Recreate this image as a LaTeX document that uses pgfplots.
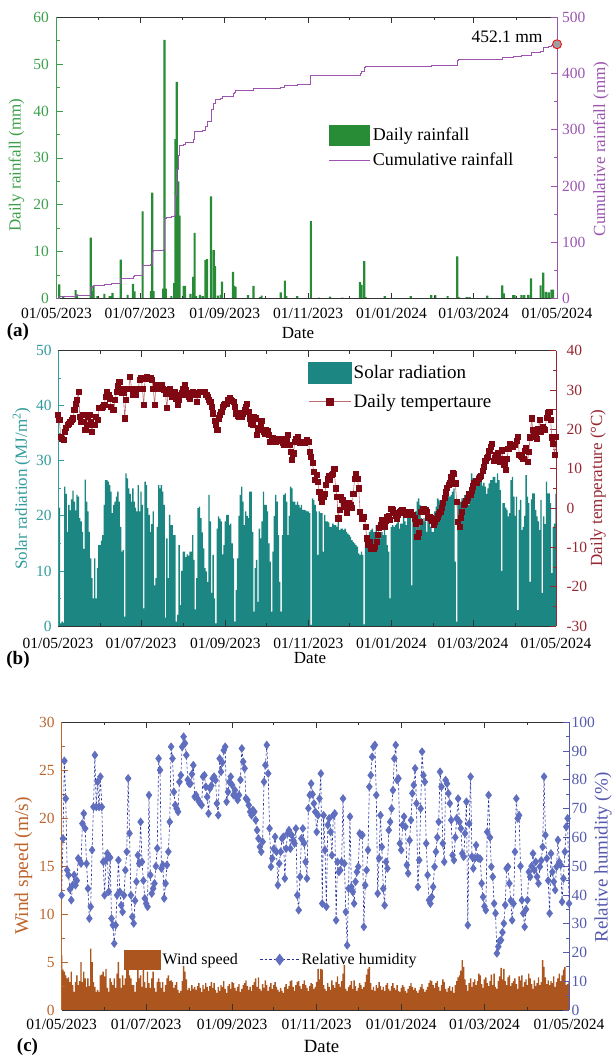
\documentclass[border=0pt]{standalone}
\usepackage{fontspec}
\setmainfont{Liberation Serif}
\usepackage{pgfplots}
\usepackage{pgfplotstable}
\pgfplotsset{compat=1.18}

\definecolor{rainGreen}{RGB}{40,140,55}
\definecolor{rainAxis}{RGB}{60,160,75}
\definecolor{cumPurple}{RGB}{155,85,175}
\definecolor{solarTeal}{RGB}{28,135,130}
\definecolor{solarAxis}{RGB}{50,155,155}
\definecolor{tempRed}{RGB}{128,8,18}
\definecolor{tempAxis}{RGB}{150,40,50}
\definecolor{tempLine}{RGB}{190,110,115}
\definecolor{windBrown}{RGB}{172,85,30}
\definecolor{windAxis}{RGB}{190,100,45}
\definecolor{rhBlue}{RGB}{95,110,190}
\definecolor{rhLine}{RGB}{40,50,160}
\definecolor{rhAxis}{RGB}{85,90,172}

% daily series: day index (0 = 01/05/2023), solar radiation, temperature, wind speed, relative humidity
\pgfplotstableread{
d S T W H
0 24.4 23.7 5.7 39.9
1 21.5 22.4 4.2 59.6
2 0.5 18.1 4.0 86.6
3 0.8 17.5 3.6 73.5
4 0.6 17.3 3.3 48.6
5 25.3 19.4 3.4 46.9
6 24.0 20.3 2.9 42.0
7 17.1 21.1 4.0 38.2
8 22.0 21.5 2.6 43.4
9 21.0 21.9 1.9 46.9
10 23.0 22.4 2.9 43.4
11 24.6 22.8 3.6 45.0
12 22.6 24.9 2.6 52.7
13 21.0 26.5 3.0 52.0
14 23.8 27.5 5.0 50.9
15 23.5 29.6 2.9 64.8
16 19.6 23.2 4.0 68.3
17 19.0 21.9 3.3 63.1
18 17.1 23.7 2.4 50.9
19 14.0 22.0 3.3 42.2
20 26.6 19.8 2.5 31.8
21 22.6 21.1 6.4 35.9
22 20.8 23.2 5.0 55.6
23 17.1 23.7 2.9 70.6
24 12.3 21.9 2.4 88.6
25 8.7 19.4 1.9 70.6
26 5.0 21.1 2.1 79.3
27 12.3 21.1 1.9 70.6
28 5.0 23.2 3.6 81.1
29 10.5 22.4 3.7 70.6
30 14.7 25.4 4.0 51.5
31 14.7 25.4 3.5 39.9
32 15.5 25.4 4.3 52.1
33 16.5 25.8 2.3 54.4
34 22.0 26.2 1.9 41.1
35 26.5 28.3 3.3 53.0
36 26.5 29.6 2.9 31.8
37 26.2 28.7 2.6 29.5
38 25.6 27.9 3.3 23.1
39 24.4 25.8 2.3 29.5
40 20.5 24.9 3.8 39.9
41 22.0 24.9 5.0 52.1
42 22.6 27.5 3.3 41.1
43 23.5 29.6 2.3 36.4
44 24.4 31.0 3.6 34.1
45 22.6 32.1 2.6 39.9
46 18.0 30.4 3.3 48.6
47 13.5 29.2 4.3 55.0
48 13.8 29.2 5.0 80.5
49 1.7 22.8 3.6 61.4
50 27.7 27.5 3.3 39.9
51 26.8 30.4 2.6 32.4
52 25.0 30.4 2.6 30.1
53 24.0 33.4 1.9 38.0
54 22.6 30.4 2.9 44.6
55 25.0 28.7 4.3 53.8
56 22.6 30.4 3.3 50.9
57 21.5 28.7 3.6 65.4
58 20.8 30.4 2.4 51.5
59 25.6 30.4 4.3 45.0
60 20.8 32.6 2.9 38.8
61 24.4 33.0 2.3 37.0
62 22.0 30.4 4.0 35.9
63 3.2 26.2 2.8 74.7
64 26.2 33.0 2.3 46.9
65 25.6 33.4 3.3 40.5
66 21.4 33.0 4.0 42.2
67 20.2 33.0 2.3 44.0
68 17.1 33.0 1.9 50.0
69 18.5 32.6 2.9 56.2
70 20.8 30.4 3.3 87.4
71 7.4 26.2 2.9 83.4
72 8.7 31.3 2.3 49.2
73 18.0 30.9 2.9 50.4
74 25.6 30.4 1.9 38.8
75 25.0 30.4 2.6 44.0
76 25.6 31.3 3.3 50.4
77 24.4 30.4 3.6 55.0
78 22.0 30.0 3.0 65.4
79 1.5 29.0 3.1 91.5
80 15.9 25.4 2.9 87.4
81 8.7 29.6 2.3 75.8
82 20.2 30.4 2.6 71.2
83 18.3 29.2 2.9 70.0
84 18.3 28.3 2.1 68.9
85 16.5 28.7 1.8 79.3
86 16.5 29.6 2.0 81.6
87 0.8 27.9 3.0 91.5
88 2.0 26.2 4.6 95.0
89 14.7 27.5 4.0 92.7
90 3.8 28.7 3.2 88.6
91 10.0 29.2 2.1 80.0
92 13.5 30.4 2.3 78.7
93 13.5 31.3 2.0 78.7
94 12.5 30.0 2.6 82.0
95 13.0 28.7 2.2 85.1
96 12.8 28.3 2.4 74.1
97 13.5 27.9 2.1 74.7
98 13.5 29.2 2.5 73.5
99 16.5 29.6 2.8 72.5
100 12.0 29.2 2.3 71.8
101 3.0 28.7 1.9 71.2
102 8.7 27.0 2.6 81.1
103 21.4 28.7 2.2 81.6
104 21.7 29.6 2.8 77.6
105 19.6 29.6 2.4 74.1
106 17.0 29.6 2.0 68.3
107 14.1 29.6 2.5 77.0
108 10.5 29.6 2.9 78.0
109 9.9 28.7 2.3 80.5
110 8.0 28.3 2.8 81.1
111 23.8 27.5 2.1 79.9
112 19.0 27.0 1.8 71.8
113 6.0 25.8 2.4 67.7
114 12.9 24.1 2.0 87.4
115 5.0 22.1 2.6 82.8
116 0.5 21.1 2.4 86.0
117 17.7 19.8 3.0 90.3
118 19.9 22.8 2.2 91.5
119 19.5 23.7 1.8 72.4
120 19.0 24.5 2.5 75.8
121 13.0 25.8 2.7 79.3
122 14.7 26.2 2.2 81.1
123 19.0 26.4 2.9 78.2
124 20.2 26.6 2.8 74.7
125 20.2 27.5 2.3 76.4
126 18.3 27.9 2.0 74.1
127 18.6 27.5 2.4 73.0
128 15.0 27.2 2.7 74.7
129 12.3 27.0 1.9 80.0
130 0.8 25.8 2.2 90.9
131 6.5 24.1 2.6 86.3
132 12.3 23.5 2.8 84.0
133 20.0 23.2 3.1 73.5
134 23.8 23.7 2.5 73.0
135 25.3 23.2 2.1 71.2
136 22.6 24.1 2.4 68.9
137 18.3 24.9 2.0 67.7
138 20.8 25.8 2.6 69.5
139 20.0 26.6 2.9 68.9
140 19.6 24.5 3.3 66.0
141 24.4 22.8 2.4 62.5
142 24.4 21.5 3.4 59.6
143 17.1 21.1 2.2 56.7
144 2.6 23.2 2.0 55.0
145 10.5 22.8 2.7 58.5
146 12.0 18.6 2.3 79.3
147 4.4 19.8 3.1 85.1
148 17.7 20.3 2.6 92.1
149 15.9 21.1 2.0 82.2
150 19.0 22.1 2.4 63.1
151 24.4 19.4 2.8 49.8
152 22.0 19.0 2.2 52.7
153 22.0 19.8 2.6 56.0
154 20.8 19.6 2.9 60.2
155 15.0 18.6 2.4 55.0
156 11.7 16.9 2.1 43.4
157 2.6 17.7 1.9 50.9
158 13.5 17.9 2.3 55.0
159 20.0 17.3 2.0 59.6
160 23.8 16.9 1.8 60.2
161 22.6 17.7 2.4 45.7
162 16.5 17.3 2.7 56.1
163 8.0 17.1 2.2 61.4
164 2.6 17.7 2.5 62.5
165 16.5 16.5 3.0 56.1
166 23.8 16.2 3.1 60.8
167 24.1 16.0 2.4 59.0
168 22.6 17.7 2.0 57.9
169 16.5 18.6 2.6 63.1
170 20.0 16.0 2.9 39.9
171 25.3 14.3 3.0 34.7
172 25.0 12.2 2.5 46.3
173 22.6 13.9 2.2 59.6
174 22.6 16.9 2.7 63.1
175 22.0 17.7 3.1 58.0
176 22.6 18.1 2.6 51.5
177 22.0 16.9 2.3 45.7
178 21.5 16.5 2.0 70.1
179 22.0 16.9 2.5 74.7
180 21.1 16.5 2.8 78.7
181 21.1 16.7 2.7 75.0
182 21.0 16.9 2.2 71.8
183 20.8 17.3 2.4 68.9
184 20.8 16.9 2.9 61.9
185 20.5 14.3 4.3 67.7
186 0.2 13.1 3.2 73.5
187 23.2 11.4 4.3 82.2
188 22.9 9.2 4.2 37.0
189 22.0 7.1 2.6 67.7
190 20.8 8.4 2.2 55.6
191 12.9 6.7 2.0 35.9
192 20.8 4.1 2.8 64.3
193 20.5 2.5 2.4 66.6
194 20.5 1.6 2.1 61.9
195 13.5 2.9 3.1 53.8
196 20.2 3.7 2.6 67.7
197 19.0 5.9 2.3 68.3
198 19.0 7.5 2.9 31.2
199 18.8 8.2 3.5 51.5
200 18.0 7.1 2.7 48.0
201 18.0 8.4 2.4 48.6
202 18.6 8.7 3.0 51.5
203 18.3 10.0 3.8 73.5
204 18.3 5.0 4.7 50.9
205 18.0 2.9 2.2 34.1
206 19.6 -2.6 2.0 22.5
207 17.4 -0.5 2.4 42.2
208 17.7 2.9 2.6 67.2
209 17.7 2.0 3.0 42.8
210 17.4 0.8 2.2 41.1
211 17.7 0.4 3.1 37.0
212 17.1 -1.3 2.5 44.6
213 16.8 0.4 2.0 48.0
214 16.5 1.2 2.3 49.8
215 16.2 0.8 2.8 61.4
216 15.6 0.0 2.6 60.8
217 15.3 3.7 2.2 60.8
218 15.0 7.5 2.4 28.9
219 14.7 8.8 2.9 43.4
220 14.4 7.5 3.7 48.6
221 13.2 5.0 4.3 55.6
222 12.9 -0.9 4.5 77.6
223 13.5 -2.6 2.8 81.6
224 12.9 -2.6 2.1 88.0
225 0.3 -2.2 2.4 91.5
226 15.9 -4.7 2.0 92.1
227 15.9 -7.7 2.6 74.7
228 16.5 -9.2 2.3 40.5
229 17.1 -8.5 2.9 52.7
230 17.4 -10.4 2.5 67.7
231 17.7 -9.8 2.1 56.7
232 17.1 -10.4 2.4 42.2
233 17.1 -9.8 2.0 36.4
234 18.3 -8.5 2.6 51.5
235 16.5 -6.9 2.8 49.2
236 16.5 -5.0 2.2 62.5
237 15.9 -4.3 2.0 65.4
238 17.1 -3.0 2.5 70.0
239 16.5 -4.1 2.8 76.4
240 18.3 -4.7 2.3 87.4
241 16.5 -3.3 2.1 92.1
242 14.7 -2.2 2.6 79.9
243 13.5 -1.9 2.0 80.5
244 5.0 -3.0 1.9 57.9
245 18.0 -0.1 2.3 55.6
246 18.3 -0.5 2.6 64.3
247 18.0 -1.3 2.4 67.2
248 18.3 -1.9 2.0 63.7
249 18.6 -2.6 1.8 50.4
250 19.6 -1.8 2.2 47.5
251 17.7 -1.1 2.5 59.0
252 18.6 -0.8 2.8 66.0
253 18.6 -0.5 2.4 75.3
254 20.2 -0.9 2.1 78.2
255 19.0 -0.9 2.3 84.0
256 18.3 -1.6 2.0 71.8
257 19.6 -1.3 1.8 42.8
258 19.6 -1.1 2.1 52.1
259 19.6 -0.9 2.4 70.0
260 7.4 -1.8 2.7 89.8
261 19.0 -1.8 2.2 81.6
262 19.6 -2.6 1.9 79.3
263 20.8 -4.1 2.1 57.9
264 22.6 -7.3 2.4 46.9
265 23.2 -6.4 2.8 38.2
266 22.0 -3.5 3.1 37.0
267 19.6 -0.9 3.0 39.3
268 19.0 -0.2 2.6 42.8
269 19.6 -0.2 2.3 49.8
270 19.0 -0.5 2.8 55.0
271 17.1 -0.9 3.0 60.0
272 20.8 -2.4 2.4 65.4
273 19.0 -2.2 2.0 82.8
274 18.0 -2.6 2.6 77.6
275 17.1 -3.3 3.2 57.9
276 17.1 -4.3 2.9 51.5
277 20.8 -3.6 2.2 79.9
278 21.7 -2.8 1.9 78.7
279 23.2 -2.1 2.3 75.3
280 22.9 -1.4 2.5 71.8
281 22.6 -0.9 2.0 66.0
282 21.4 0.0 2.4 53.8
283 23.8 1.3 1.8 52.1
284 22.6 2.6 2.6 60.0
285 23.8 4.0 3.0 66.6
286 24.4 5.2 3.4 73.5
287 23.8 5.9 3.6 65.4
288 23.5 6.5 4.1 63.1
289 23.8 8.0 5.2 54.4
290 24.4 9.0 4.5 53.3
291 25.0 8.8 3.2 61.4
292 11.7 6.3 2.6 72.4
293 0.8 1.6 2.0 29.5
294 22.0 -3.5 2.8 64.8
295 22.0 -4.7 3.3 81.1
296 22.6 -2.4 2.4 53.3
297 23.2 -0.9 2.9 49.2
298 23.2 0.8 3.2 52.7
299 23.8 1.1 2.6 57.3
300 22.6 1.8 3.0 53.0
301 22.3 2.6 3.8 52.7
302 22.0 3.5 3.6 52.5
303 24.4 3.5 2.7 44.0
304 27.7 4.5 2.3 39.3
305 26.8 5.5 3.2 36.0
306 26.2 6.5 3.4 34.7
307 25.6 7.0 2.8 61.9
308 27.4 6.5 2.5 74.7
309 25.6 7.5 3.0 60.0
310 27.7 8.0 3.7 49.8
311 26.5 8.2 2.6 46.3
312 25.5 9.5 3.8 37.0
313 26.0 10.5 2.4 33.6
314 25.3 12.0 2.2 19.7
315 24.0 12.8 3.0 22.0
316 25.0 13.1 3.5 24.0
317 25.9 14.5 4.4 24.3
318 26.5 15.5 3.2 27.0
319 26.5 16.4 4.3 30.1
320 27.1 12.0 3.0 36.5
321 27.1 12.8 2.6 49.2
322 26.0 13.5 3.4 49.8
323 27.7 13.9 3.6 44.0
324 26.5 12.5 2.5 38.0
325 24.7 11.8 2.8 31.2
326 10.0 14.7 3.0 37.0
327 22.3 12.5 3.3 55.0
328 22.3 11.0 2.7 73.5
329 21.5 9.7 2.2 66.6
330 21.1 12.5 3.5 67.7
331 19.9 15.0 3.1 50.0
332 20.5 16.4 3.6 38.2
333 26.5 15.8 2.4 33.6
334 27.1 15.6 2.9 28.9
335 23.5 16.0 3.2 35.0
336 20.0 16.0 2.6 38.2
337 23.5 17.0 3.8 48.0
338 2.9 18.1 3.3 46.3
339 21.1 13.5 2.7 50.0
340 22.9 13.3 2.2 54.4
341 17.4 13.1 3.1 48.6
342 18.0 12.6 2.5 51.5
343 20.0 14.5 2.8 46.3
344 27.4 15.2 3.4 44.0
345 23.5 11.8 2.6 49.8
346 22.3 14.3 2.9 52.0
347 8.0 18.0 5.2 56.7
348 23.0 22.8 4.5 81.1
349 24.1 19.8 3.4 60.8
350 24.1 18.5 2.7 52.7
351 21.1 18.1 3.1 45.0
352 19.9 17.7 2.6 33.6
353 19.0 20.0 3.0 54.4
354 17.4 22.4 2.8 48.0
355 22.9 19.4 3.5 44.6
356 6.0 20.7 2.4 41.7
357 19.9 20.0 2.9 49.8
358 18.5 19.8 3.3 59.1
359 26.2 23.0 3.8 51.5
360 24.1 24.1 3.0 50.4
361 24.1 24.5 3.6 37.6
362 22.3 22.4 4.2 45.7
363 9.6 18.0 4.5 55.0
364 18.0 16.4 2.6 63.7
365 18.6 13.5 2.7 66.6
366 24.0 18.1 2.9 37.0
}\met

\newcommand{\tickfont}{\fontsize{15.5}{16}\selectfont}

\pgfplotsset{
  dateaxis/.style={
    scale only axis, anchor=south west, axis on top,
    xmin=0, xmax=366,
    xtick={0,61,123,184,245,305,366},
    minor xtick={31,92,153,214,276,336},
    xticklabels={01/05/2023,01/07/2023,01/09/2023,01/11/2023,01/01/2024,01/03/2024,01/05/2024},
    tick align=inside,
    major tick length=6pt, minor tick length=3pt,
    ytick pos=left,
    minor y tick num=1,
    separate axis lines,
    x axis line style={black!80, line width=0.8pt},
    every x tick/.append style={black!80, line width=0.8pt},
    every minor x tick/.append style={black!80, line width=0.8pt},
    ticklabel style={font=\tickfont},
    xticklabel style={yshift=-6pt},
    /pgf/number format/assume math mode=true,
  },
  rightaxis/.style={
    scale only axis, anchor=south west,
    xmin=0, xmax=366,
    axis x line=none, axis y line*=right,
    tick align=inside, major tick length=6pt, minor tick length=3pt,
    minor y tick num=1,
    ticklabel style={font=\tickfont},
    /pgf/number format/assume math mode=true,
    legend cell align=left,
  },
  rainbox/.style={legend image code/.code={\fill[rainGreen] (0pt,-9.7pt) rectangle (40pt,9.7pt);}},
  cumline/.style={legend image code/.code={\draw[##1] (0pt,0pt) -- (41pt,0pt);}},
  solarbox/.style={legend image code/.code={\fill[solarTeal] (0pt,-10.3pt) rectangle (43pt,10.3pt);}},
  templeg/.style={legend image code/.code={\draw[mark repeat=2, mark phase=2, ##1, mark size=3.6pt] plot coordinates {(0pt,0pt) (21pt,0pt) (42pt,0pt)};}},
  windbox/.style={legend image code/.code={\fill[windBrown] (0pt,-9.2pt) rectangle (36pt,9.2pt);}},
  rhleg/.style={legend image code/.code={\draw[mark repeat=2, mark phase=2, ##1, mark size=5.5pt] plot coordinates {(0pt,0pt) (19.5pt,0pt) (39pt,0pt)};}},
}

\begin{document}
\begin{tikzpicture}
\useasboundingbox (0,0) rectangle (612pt,-1056pt);

% ---------------- (a) rainfall ----------------
\begin{axis}[dateaxis, at={(56.5pt,-298.5pt)}, width=500.5pt, height=281.2pt,
  ymin=0, ymax=60, ytick={0,10,...,60},
  y axis line style={rainAxis, line width=0.8pt},
  every y tick/.append style={rainAxis, line width=0.8pt},
  every minor y tick/.append style={rainAxis, line width=0.8pt},
  yticklabel style={text=rainAxis, xshift=-4pt}]
\addplot[ybar, bar width=1.6, fill=rainGreen, draw=none] coordinates {
(2,3.0) (5,0.5) (14,1.8) (15,0.9) (25,13.0) (26,1.6) (27,2.7) (30,0.5) (35,1.0) (39,0.5)
(40,0.5) (41,1.2) (47,8.3) (52,0.8) (56,3.1) (57,1.5) (63,18.6) (69,1.6) (70,22.6) (71,1.6)
(78,2.1) (79,55.2) (80,2.1) (84,0.5) (86,3.3) (87,34.0) (88,46.2) (89,25.0) (90,17.7) (93,2.7)
(94,2.7) (98,1.0) (100,4.6) (101,14.0) (102,0.5) (105,0.8) (107,0.5) (109,8.2) (110,8.4) (113,21.8)
(115,10.3) (116,6.9) (118,0.6) (120,0.8) (121,3.6) (129,5.7) (130,2.7) (131,2.5) (140,0.7) (144,2.7)
(149,0.3) (150,0.6) (164,1.3) (167,3.8) (168,0.5) (176,0.5) (186,16.5) (192,0.2) (200,0.4) (209,0.2)
(222,3.5) (223,2.9) (225,8.0) (226,0.3) (240,0.5) (259,0.5) (274,0.7) (277,0.7) (286,0.5) (293,9.0)
(294,0.3) (300,0.3) (302,0.3) (315,0.6) (326,2.8) (327,1.1) (334,0.7) (335,0.7) (340,0.7) (342,0.7)
(345,0.8) (347,4.3) (354,2.8) (356,5.5) (358,1.4) (360,1.3) (362,1.9) (363,1.9)
};
\end{axis}
\begin{axis}[rightaxis, at={(56.5pt,-298.5pt)}, width=500.5pt, height=281.2pt,
  ymin=0, ymax=500, ytick={0,100,...,500}, clip=false,
  y axis line style={cumPurple, line width=0.8pt},
  every y tick/.append style={cumPurple, line width=0.8pt},
  every minor y tick/.append style={cumPurple, line width=0.8pt},
  yticklabel style={text=cumPurple, xshift=1.5pt},
  legend style={at={(0.538,0.624)}, anchor=north west, draw=none, fill=none,
    font=\fontsize{18}{20}\selectfont, row sep=6pt}]
\addlegendimage{rainbox}
\addlegendentry{Daily rainfall}
\addplot[const plot, cumPurple, line width=0.8pt, cumline] coordinates {
(0,0) (2,3.0) (5,3.5) (14,5.3) (15,6.2) (25,19.2) (26,20.8) (27,23.5) (30,24.0) (35,25.0)
(39,25.5) (40,26.0) (41,27.2) (47,35.5) (52,36.3) (56,39.4) (57,40.9) (63,59.5) (69,61.1) (70,83.7)
(71,85.3) (78,87.4) (79,142.6) (80,144.7) (84,145.2) (86,148.5) (87,182.5) (88,228.7) (89,253.7) (90,271.4)
(93,274.1) (94,276.8) (98,277.8) (100,282.4) (101,296.4) (102,296.9) (105,297.7) (107,298.2) (109,306.4) (110,314.8)
(113,336.6) (115,346.9) (116,353.8) (118,354.4) (120,355.2) (121,358.8) (129,364.5) (130,367.2) (131,369.7) (140,370.4)
(144,373.1) (149,373.4) (150,374.0) (164,375.3) (167,379.1) (168,379.6) (176,380.1) (186,396.6) (192,396.8) (200,397.2)
(209,397.4) (222,400.9) (223,403.8) (225,411.8) (226,412.1) (240,412.6) (259,413.1) (274,413.8) (277,414.5) (286,415.0)
(293,424.0) (294,424.3) (300,424.6) (302,424.9) (315,425.5) (326,428.3) (327,429.4) (334,430.1) (335,430.8) (340,431.5)
(342,432.2) (345,433.0) (347,437.3) (354,440.1) (356,445.6) (358,447.0) (360,448.3) (362,450.2) (363,452.1) (366,452.1)
};
\addlegendentry{Cumulative rainfall}
\addplot[only marks, mark=*, mark size=4.5pt, mark options={fill=gray!75, draw=red, line width=0.8pt}, forget plot]
  coordinates {(366,452.1)};
\node[anchor=east, xshift=-11pt, yshift=7pt, font=\fontsize{17.5}{18}\selectfont] at (axis cs:366,452.1) {452.1 mm};
\end{axis}

% ---------------- (b) solar radiation and temperature ----------------
\begin{axis}[dateaxis, at={(58pt,-626pt)}, width=498pt, height=275.3pt,
  ymin=0, ymax=50, ytick={0,10,...,50},
  xticklabel style={yshift=-3pt},
  y axis line style={solarAxis, line width=0.8pt},
  every y tick/.append style={solarAxis, line width=0.8pt},
  every minor y tick/.append style={solarAxis, line width=0.8pt},
  yticklabel style={text=solarAxis, xshift=-2.8pt}]
\addplot[ybar, bar width=1, fill=solarTeal, draw=none] table[x=d, y=S] {\met};
\end{axis}
\begin{axis}[rightaxis, at={(58pt,-626pt)}, width=498pt, height=275.3pt,
  ymin=-30, ymax=40, ytick={-30,-20,...,40},
  y axis line style={tempAxis, line width=0.8pt},
  every y tick/.append style={tempAxis, line width=0.8pt},
  every minor y tick/.append style={tempAxis, line width=0.8pt},
  yticklabel style={text=tempAxis, xshift=7pt},
  legend style={at={(0.496,0.966)}, anchor=north west, draw=none, fill=none,
    font=\fontsize{19}{20}\selectfont, row sep=9pt}]
\addlegendimage{solarbox}
\addlegendentry{Solar radiation}
\addplot[tempLine, line width=0.6pt, mark=square*, mark size=2.6pt,
  mark options={fill=tempRed, draw=tempRed}, templeg]
  table[x=d, y=T] {\met};
\addlegendentry{Daily tempertaure}
\end{axis}

% ---------------- (c) wind speed and humidity ----------------
\begin{axis}[dateaxis, at={(61.6pt,-1010pt)}, width=507.4pt, height=287.7pt,
  ymin=0, ymax=30, ytick={0,5,...,30},
  y axis line style={windAxis, line width=0.8pt},
  every y tick/.append style={windAxis, line width=0.8pt},
  every minor y tick/.append style={windAxis, line width=0.8pt},
  yticklabel style={text=windAxis, xshift=-3.4pt}]
\addplot[ybar, bar width=1, fill=windBrown, draw=none] table[x=d, y=W] {\met};
\end{axis}
\begin{axis}[rightaxis, at={(61.6pt,-1010pt)}, width=507.4pt, height=287.7pt,
  ymin=0, ymax=100, ytick={0,10,...,100},
  y axis line style={rhAxis, line width=0.8pt},
  every y tick/.append style={rhAxis, line width=0.8pt},
  every minor y tick/.append style={rhAxis, line width=0.8pt},
  yticklabel style={text=rhAxis, xshift=-1pt},
  legend columns=2,
  legend style={at={(0.117,0.2155)}, anchor=north west, draw=none, fill=none,
    font=\fontsize{16}{18}\selectfont,
    /tikz/every even column/.append style={column sep=20pt}}]
\addlegendimage{windbox}
\addlegendentry{Wind speed}
\addplot[rhLine, dash pattern=on 2.5pt off 2pt, line width=0.6pt, mark=diamond*, mark size=3.9pt,
  mark options={solid, fill=rhBlue, draw=rhBlue}, rhleg]
  table[x=d, y=H] {\met};
\addlegendentry{Relative humidity}
\end{axis}

% ---------------- titles and panel letters ----------------
\node[rotate=90, text=rainAxis, font=\fontsize{17}{18}\selectfont] at (16.5pt,-165pt) {Daily rainfall (mm)};
\node[rotate=90, text=cumPurple, font=\fontsize{17}{18}\selectfont] at (601pt,-149pt) {Cumulative rainfall (mm)};
\node[font=\fontsize{17}{18}\selectfont] at (298pt,-333pt) {Date};
\node[font=\fontsize{19}{20}\selectfont\bfseries] at (18pt,-332pt) {(a)};

\node[rotate=90, text=solarAxis, font=\fontsize{17}{18}\selectfont] at (21.6pt,-488.7pt) {Solar radiation (MJ/m\textsuperscript{2})};
\node[rotate=90, text=tempAxis, font=\fontsize{17}{18}\selectfont] at (598pt,-488pt) {Daily temperature (°C)};
\node[font=\fontsize{17}{18}\selectfont] at (310pt,-658pt) {Date};
\node[font=\fontsize{19}{20}\selectfont\bfseries] at (18pt,-660pt) {(b)};

\node[rotate=90, text=windAxis, font=\fontsize{19.5}{20}\selectfont] at (23.5pt,-866pt) {Wind speed (m/s)};
\node[rotate=90, text=rhAxis, font=\fontsize{19}{20}\selectfont] at (603pt,-857.5pt) {Relative humidity (\%)};
\node[font=\fontsize{18.7}{20}\selectfont] at (321.6pt,-1046.7pt) {Date};
\node[font=\fontsize{19}{20}\selectfont\bfseries] at (27.5pt,-1047pt) {(c)};
\end{tikzpicture}
\end{document}
